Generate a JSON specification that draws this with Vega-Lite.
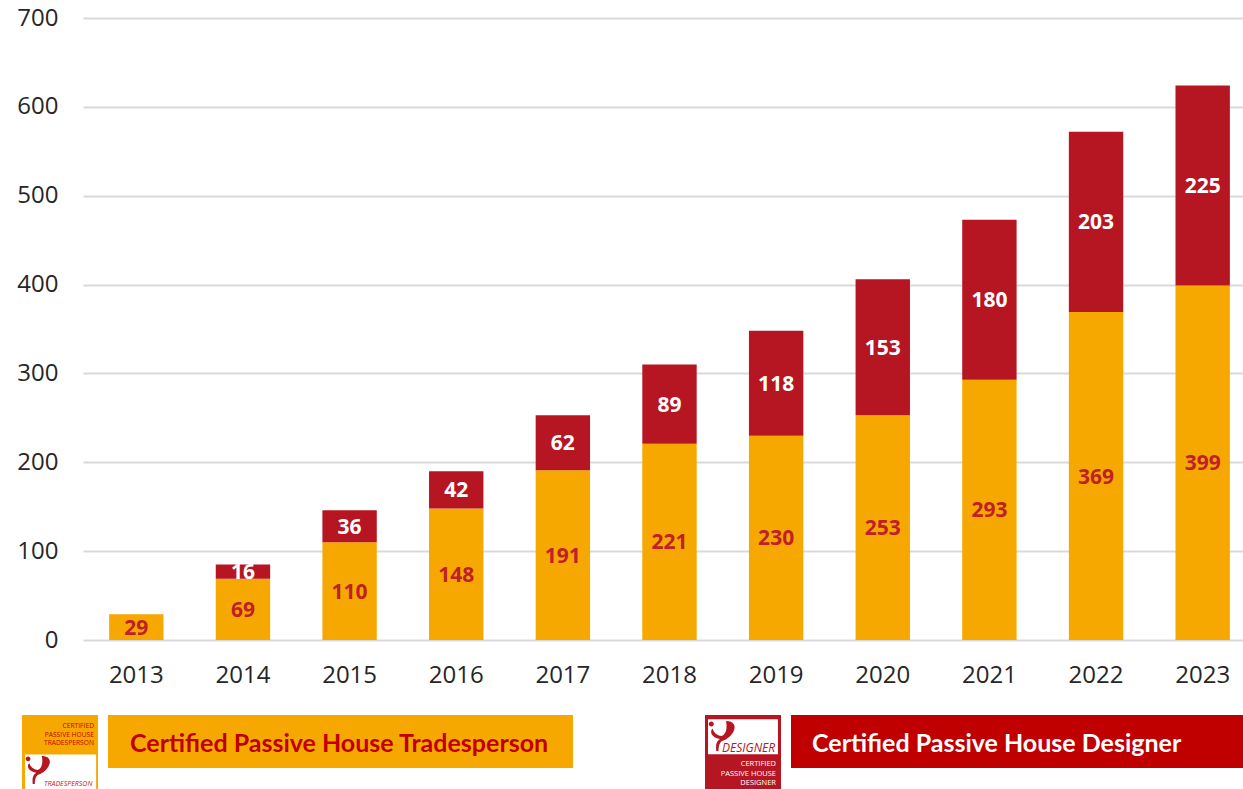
{
"$schema":"https://vega.github.io/schema/vega-lite/v6.json",
"width":1160,"height":622,
"autosize":{"type":"none"},
"padding":{"left":83,"top":18,"right":0,"bottom":149},
"background":"white",
"data":{"values":[
{"year":"2013","series":"Certified Passive House Tradesperson","count":29},
{"year":"2014","series":"Certified Passive House Tradesperson","count":69},
{"year":"2014","series":"Certified Passive House Designer","count":16},
{"year":"2015","series":"Certified Passive House Tradesperson","count":110},
{"year":"2015","series":"Certified Passive House Designer","count":36},
{"year":"2016","series":"Certified Passive House Tradesperson","count":148},
{"year":"2016","series":"Certified Passive House Designer","count":42},
{"year":"2017","series":"Certified Passive House Tradesperson","count":191},
{"year":"2017","series":"Certified Passive House Designer","count":62},
{"year":"2018","series":"Certified Passive House Tradesperson","count":221},
{"year":"2018","series":"Certified Passive House Designer","count":89},
{"year":"2019","series":"Certified Passive House Tradesperson","count":230},
{"year":"2019","series":"Certified Passive House Designer","count":118},
{"year":"2020","series":"Certified Passive House Tradesperson","count":253},
{"year":"2020","series":"Certified Passive House Designer","count":153},
{"year":"2021","series":"Certified Passive House Tradesperson","count":293},
{"year":"2021","series":"Certified Passive House Designer","count":180},
{"year":"2022","series":"Certified Passive House Tradesperson","count":369},
{"year":"2022","series":"Certified Passive House Designer","count":203},
{"year":"2023","series":"Certified Passive House Tradesperson","count":399},
{"year":"2023","series":"Certified Passive House Designer","count":225}
]},
"config":{"view":{"stroke":null},"font":"Open Sans"},
"resolve":{"scale":{"color":"independent"},"legend":{"color":"independent"}},
"layer":[
{"transform":[{"stack":"count","groupby":["year"],"sort":[{"field":"series","order":"descending"}],"as":["y0","y1"]},{"filter":"datum.series=='Certified Passive House Tradesperson'"}],
"mark":{"type":"bar"},
"encoding":{
"x":{"field":"year","type":"ordinal","title":null,"scale":{"range":[0,1173],"paddingInner":0.49,"paddingOuter":0.245},
"axis":{"labelAngle":0,"domain":false,"ticks":false,"grid":false,"labelFont":"Open Sans","labelFontSize":24,"labelColor":"#262626","labelPadding":23}},
"y":{"field":"y1","type":"quantitative","title":null,"scale":{"domain":[0,700],"nice":false},
"axis":{"values":[0,100,200,300,400,500,600,700],"domain":false,"ticks":false,"gridColor":"#d9d9d9","gridWidth":2,"labelFont":"Open Sans","labelFontSize":24,"labelColor":"#262626","labelPadding":25}},
"y2":{"field":"y0"},
"color":{"field":"series","type":"nominal","scale":{"domain":["Certified Passive House Tradesperson"],"range":["#f7a800"]},
"legend":{"orient":"none","legendX":25,"legendY":697,"title":null,"fillColor":"#f7a800","padding":0,"symbolSize":2809,"symbolType":"M-1 -1L-1 -1 M16.51 1L16.51 1","symbolStrokeWidth":0,"symbolOpacity":0,"labelFont":"Lato","labelFontWeight":"bold","labelFontSize":25,"labelColor":"#c00000","labelLimit":800,"labelOffset":-31,"encode":{"labels":{"update":{"dy":{"value":2}}}}}}
}},
{"transform":[{"stack":"count","groupby":["year"],"sort":[{"field":"series","order":"descending"}],"as":["y0","y1"]},{"filter":"datum.series=='Certified Passive House Designer'"}],
"mark":{"type":"bar"},
"encoding":{
"x":{"field":"year","type":"ordinal"},
"y":{"field":"y1","type":"quantitative"},
"y2":{"field":"y0"},
"color":{"field":"series","type":"nominal","scale":{"domain":["Certified Passive House Designer"],"range":["#b61621"]},
"legend":{"orient":"none","legendX":708,"legendY":697,"title":null,"fillColor":"#c00000","padding":0,"symbolSize":2809,"symbolType":"M-1 -1L-1 -1 M16.06 1L16.06 1","symbolStrokeWidth":0,"symbolOpacity":0,"labelFont":"Lato","labelFontWeight":"bold","labelFontSize":25,"labelColor":"#ffffff","labelLimit":800,"labelOffset":-32,"encode":{"labels":{"update":{"dy":{"value":2}}}}}}
}},
{"transform":[{"stack":"count","groupby":["year"],"sort":[{"field":"series","order":"descending"}],"as":["y0","y1"]},{"calculate":"(datum.y0+datum.y1)/2","as":"mid"}],
"mark":{"type":"text","font":"Open Sans","fontWeight":"bold","fontSize":21,"baseline":"middle","dy":1.5},
"encoding":{
"x":{"field":"year","type":"ordinal"},
"y":{"field":"mid","type":"quantitative"},
"text":{"field":"count","type":"quantitative"},
"color":{"condition":{"test":"datum.series=='Certified Passive House Designer'","value":"#ffffff"},"value":"#c0202a"}
}},
{"data":{"values":[{"logo":"CERTIFIED PASSIVE HOUSE TRADESPERSON"}]},
"mark":{"type":"point","opacity":0,"filled":true},
"encoding":{"color":{"field":"logo","type":"nominal","scale":{"range":["#ffffff"]},
"legend":{"orient":"none","legendX":-61,"legendY":697,"title":null,"fillColor":"#f7a800","padding":0,"symbolSize":5776,"symbolType":"M-0.92 0.04H0.95V1H-0.92Z M-1 -1L-1 -1 M1 1L1 1","symbolStrokeWidth":0,"symbolOpacity":1,"labelFont":"Open Sans","labelFontSize":6.7,"labelColor":"#c00000","labelLimit":200,"labelAlign":"right","labelOffset":-4,"labelExpr":"['CERTIFIED','PASSIVE HOUSE','TRADESPERSON']","encode":{"labels":{"update":{"dy":{"value":-27}}}}}}}},
{"data":{"values":[{"logo":"TRADESPERSON"}]},
"mark":{"type":"point","opacity":0,"filled":true},
"encoding":{"color":{"field":"logo","type":"nominal","scale":{"range":["#b61621"]},
"legend":{"orient":"none","legendX":-58,"legendY":738,"title":null,"padding":0,"symbolSize":784,"symbolType":"M-0.95 -0.8a0.17 0.17 0 1 0 0.34 0a0.17 0.17 0 1 0 -0.34 0Z M-0.45 1 C-0.5 0.5 -0.4 0.35 -0.2 0.2 C-0.8 0.1 -0.9 -0.3 -0.7 -0.5 C-0.6 -0.2 -0.4 -0.05 -0.1 0 C0.2 -0.1 0.3 -0.5 0.2 -1 C0.7 -1 0.9 -0.7 0.7 -0.3 C0.5 0.1 0.1 0.3 -0.1 0.35 C-0.25 0.5 -0.3 0.7 -0.3 1Z","symbolStrokeWidth":0,"symbolOpacity":1,"labelFont":"Open Sans","labelFontStyle":"italic","labelFontSize":7,"labelColor":"#c0202a","labelLimit":200,"labelOffset":-9,"encode":{"labels":{"update":{"dy":{"value":14}}}}}}}},
{"data":{"values":[{"logo":"CERTIFIED PASSIVE HOUSE DESIGNER"}]},
"mark":{"type":"point","opacity":0,"filled":true},
"encoding":{"color":{"field":"logo","type":"nominal","scale":{"range":["#ffffff"]},
"legend":{"orient":"none","legendX":622,"legendY":697,"title":null,"fillColor":"#b61621","padding":0,"symbolSize":5776,"symbolType":"M-0.92 -0.89H0.92V0.03H-0.92Z M-1 -1L-1 -1 M1 1L1 1","symbolStrokeWidth":0,"symbolOpacity":1,"labelFont":"Open Sans","labelFontSize":7.5,"labelColor":"#ffffff","labelLimit":200,"labelAlign":"right","labelOffset":-5,"labelExpr":"['CERTIFIED','PASSIVE HOUSE','DESIGNER']","encode":{"labels":{"update":{"dy":{"value":11}}}}}}}},
{"data":{"values":[{"logo":"DESIGNER"}]},
"mark":{"type":"point","opacity":0,"filled":true},
"encoding":{"color":{"field":"logo","type":"nominal","scale":{"range":["#b61621"]},
"legend":{"orient":"none","legendX":625,"legendY":703,"title":null,"padding":0,"symbolSize":900,"symbolType":"M-0.95 -0.8a0.17 0.17 0 1 0 0.34 0a0.17 0.17 0 1 0 -0.34 0Z M-0.45 1 C-0.5 0.5 -0.4 0.35 -0.2 0.2 C-0.8 0.1 -0.9 -0.3 -0.7 -0.5 C-0.6 -0.2 -0.4 -0.05 -0.1 0 C0.2 -0.1 0.3 -0.5 0.2 -1 C0.7 -1 0.9 -0.7 0.7 -0.3 C0.5 0.1 0.1 0.3 -0.1 0.35 C-0.25 0.5 -0.3 0.7 -0.3 1Z","symbolStrokeWidth":0,"symbolOpacity":1,"labelFont":"Open Sans","labelFontStyle":"italic","labelFontSize":12,"labelColor":"#b61621","labelLimit":200,"labelOffset":-16,"encode":{"labels":{"update":{"dy":{"value":12}}}}}}}}
]
}
